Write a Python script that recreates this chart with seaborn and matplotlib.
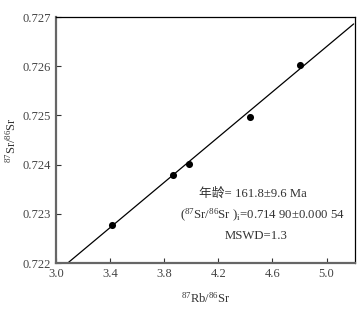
import numpy as np
import pandas as pd
import matplotlib
matplotlib.use("Agg")
import matplotlib.pyplot as plt
import seaborn as sns

# data
rb_sr = [3.415, 3.864, 3.985, 4.432, 4.800]
sr_sr = [0.72278, 0.72379, 0.72401, 0.72496, 0.72602]
iso_slope = 0.00230
iso_intercept = 0.71490
x_ticks = [3.0, 3.4, 3.8, 4.2, 4.6, 5.0]
y_ticks = [0.722, 0.723, 0.724, 0.725, 0.726, 0.727]

sns.set_theme(style="ticks")
plt.rcParams['font.family'] = ['Liberation Serif', 'Noto Sans CJK SC']
plt.rcParams['mathtext.fontset'] = 'custom'
plt.rcParams['mathtext.rm'] = 'Liberation Serif'
plt.rcParams['mathtext.it'] = 'Liberation Serif:italic'

fig = plt.figure(figsize=(3.62, 3.10), dpi=100)
ax = fig.add_axes([0.1547, 0.1516, 0.8260, 0.7934])

df = pd.DataFrame({"x": rb_sr, "y": sr_sr})
xl = np.array([3.0, 5.2])
line_df = pd.DataFrame({"x": xl, "y": iso_intercept + iso_slope * xl})
sns.lineplot(data=line_df, x="x", y="y", ax=ax, color="black", lw=0.9)
sns.scatterplot(data=df, x="x", y="y", ax=ax, color="black", s=26,
                edgecolor="black", linewidth=0, zorder=3)

ax.set_xlim(3.0, 5.21)
ax.set_ylim(0.722, 0.727)
ax.set_xticks(x_ticks)
ax.set_xticklabels([f"{v:.1f}" for v in x_ticks])
ax.set_yticks(y_ticks)
ax.set_yticklabels([f"{v:.3f}" for v in y_ticks])
ax.tick_params(direction="in", length=3.5, width=0.8, labelsize=9,
               colors="#333333", labelcolor="#444444", pad=3.5)

for s in ["left", "bottom"]:
    ax.spines[s].set_color("#666666")
    ax.spines[s].set_linewidth(1.6)
for s in ["top", "right"]:
    ax.spines[s].set_color("black")
    ax.spines[s].set_linewidth(0.9)

ax.set_xlabel(r"$^{87}$Rb/$^{86}$Sr", fontsize=9, color="#333333", labelpad=8)
ax.set_ylabel(r"$^{87}$Sr/$^{86}$Sr", fontsize=9, color="#333333", labelpad=3)

tc = "#333333"
ax.text(0.66, 0.281, "年龄= 161.8±9.6 Ma", transform=ax.transAxes,
        ha="center", va="center", fontsize=9.2, color=tc)
ax.text(0.69, 0.192, r"($^{87}$Sr/$^{86}$Sr )$_{\rm i}$=0.714 90±0.000 54",
        transform=ax.transAxes, ha="center", va="center", fontsize=9.2, color=tc)
ax.text(0.67, 0.110, "MSWD=1.3", transform=ax.transAxes,
        ha="center", va="center", fontsize=9.2, color=tc)

fig.savefig("out.png", dpi=100)
